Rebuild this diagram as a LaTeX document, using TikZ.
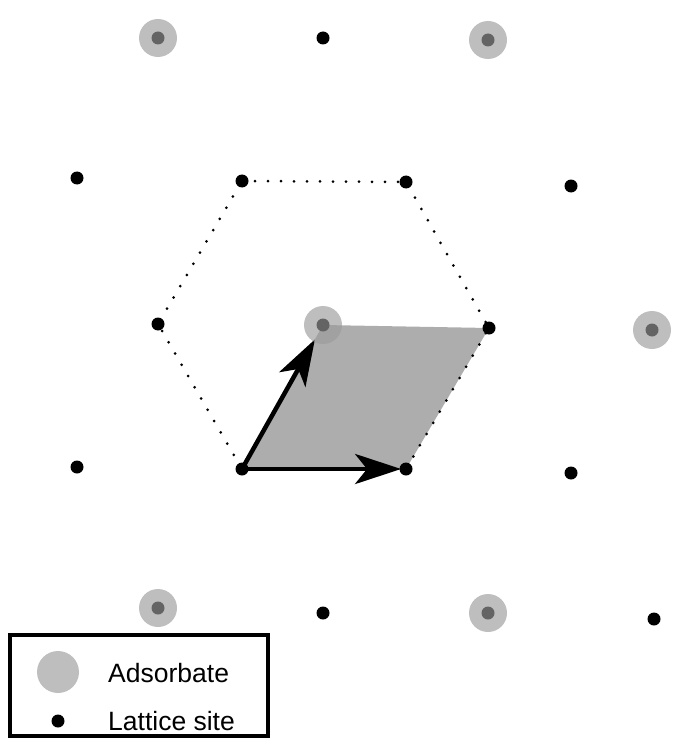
\documentclass[tikz,border=0pt]{standalone}
\usepackage{fontspec}
\setmainfont{Liberation Sans}
\usetikzlibrary{arrows.meta,calc}
\begin{document}
\begin{tikzpicture}[x=1pt,y=-1pt,
  site/.style={circle,fill=black,inner sep=0pt,minimum size=13pt},
  adsorb/.style={circle,fill={rgb,255:red,155;green,155;blue,155},fill opacity=0.65,inner sep=0pt,minimum size=38pt},
  hexline/.style={line width=3pt,dash pattern=on 0pt off 13pt,line cap=round},
  vec/.style={line width=4.5pt,-{Stealth[length=46pt,width=30pt,inset=12pt]}},
  legendtext/.style={anchor=west,font=\fontsize{26.5}{30}\selectfont,inner sep=0pt}]
\useasboundingbox (0,0) rectangle (675,738);
% lattice sites
\coordinate (a1) at (158,38);
\coordinate (s1) at (323,38);
\coordinate (a2) at (488,40);
\coordinate (s2) at (77,178);
\coordinate (s3) at (242,181);
\coordinate (s4) at (406,182);
\coordinate (s5) at (571,186);
\coordinate (s6) at (158,324);
\coordinate (a3) at (323,325);
\coordinate (s7) at (489,328);
\coordinate (a4) at (652,330);
\coordinate (s8) at (77,467);
\coordinate (o) at (242,469);
\coordinate (s9) at (406,469);
\coordinate (s10) at (571,473);
\coordinate (a5) at (158,608);
\coordinate (s11) at (323,613);
\coordinate (a6) at (488,613);
\coordinate (s12) at (654,619);
% unit cell
\fill[black!32] (o) -- (s9) -- (s7) -- (a3) -- cycle;
% hexagon
\draw[hexline] (s3) -- (s4) -- (s7) -- (s9) -- (o) -- (s6) -- cycle;
% vectors
\draw[vec] (o) -- ($(o)!0.9!(a3)$);
\draw[vec] (o) -- ($(o)!0.97!(s9)$);
% sites
\foreach \p in {a1,s1,a2,s2,s3,s4,s5,s6,a3,s7,a4,s8,o,s9,s10,a5,s11,a6,s12}
  \node[site] at (\p) {};
% adsorbates
\foreach \p in {a1,a2,a3,a4,a5,a6}
  \node[adsorb] at (\p) {};
% legend
\draw[line width=3.5pt] (10,635) rectangle (268,736);
\node[adsorb,minimum size=42pt] (la) at (58,672) {};
\node[site] (ls) at (58,721) {};
\node[legendtext] (ta) at (108,673) {Adsorbate};
\node[legendtext] (tl) at (108,721) {Lattice site};
\end{tikzpicture}
\end{document}
